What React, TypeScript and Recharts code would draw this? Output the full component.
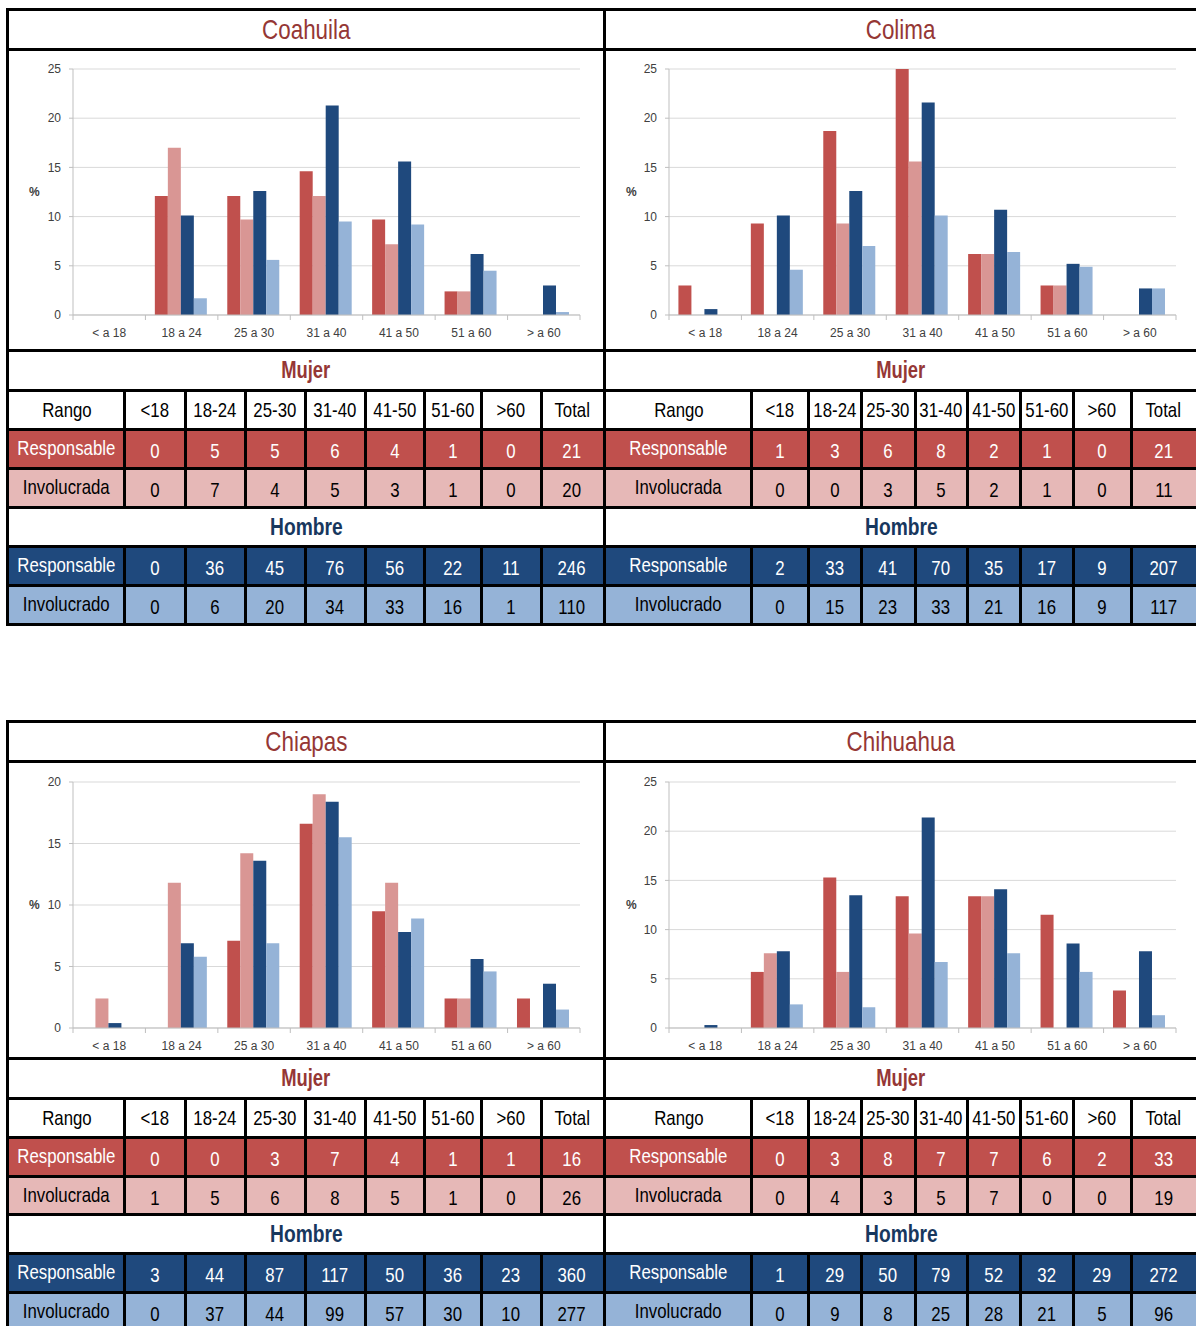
import { BarChart, Bar, XAxis, YAxis, CartesianGrid } from 'recharts';

const categorias = ['< a 18', '18 a 24', '25 a 30', '31 a 40', '41 a 50', '51 a 60', '> a 60'];
const rangos = ['<18', '18-24', '25-30', '31-40', '41-50', '51-60', '>60', 'Total'];

// porcentajes
const coahuilaMujerResp = [0, 12.1, 12.1, 14.6, 9.7, 2.4, 0];
const coahuilaMujerInv = [0, 17.0, 9.7, 12.1, 7.2, 2.4, 0];
const coahuilaHombreResp = [0, 10.1, 12.6, 21.3, 15.6, 6.2, 3.0];
const coahuilaHombreInv = [0, 1.7, 5.6, 9.5, 9.2, 4.5, 0.3];

const colimaMujerResp = [3.0, 9.3, 18.7, 25.0, 6.2, 3.0, 0];
const colimaMujerInv = [0, 0, 9.3, 15.6, 6.2, 3.0, 0];
const colimaHombreResp = [0.6, 10.1, 12.6, 21.6, 10.7, 5.2, 2.7];
const colimaHombreInv = [0, 4.6, 7.0, 10.1, 6.4, 4.9, 2.7];

const chiapasMujerResp = [0, 0, 7.1, 16.6, 9.5, 2.4, 2.4];
const chiapasMujerInv = [2.4, 11.8, 14.2, 19.0, 11.8, 2.4, 0];
const chiapasHombreResp = [0.4, 6.9, 13.6, 18.4, 7.8, 5.6, 3.6];
const chiapasHombreInv = [0, 5.8, 6.9, 15.5, 8.9, 4.6, 1.5];

const chihuahuaMujerResp = [0, 5.7, 15.3, 13.4, 13.4, 11.5, 3.8];
const chihuahuaMujerInv = [0, 7.6, 5.7, 9.6, 13.4, 0, 0];
const chihuahuaHombreResp = [0.3, 7.8, 13.5, 21.4, 14.1, 8.6, 7.8];
const chihuahuaHombreInv = [0, 2.4, 2.1, 6.7, 7.6, 5.7, 1.3];

// conteos de las tablas (último valor = total)
const coahuilaTablaMR = [0, 5, 5, 6, 4, 1, 0, 21];
const coahuilaTablaMI = [0, 7, 4, 5, 3, 1, 0, 20];
const coahuilaTablaHR = [0, 36, 45, 76, 56, 22, 11, 246];
const coahuilaTablaHI = [0, 6, 20, 34, 33, 16, 1, 110];

const colimaTablaMR = [1, 3, 6, 8, 2, 1, 0, 21];
const colimaTablaMI = [0, 0, 3, 5, 2, 1, 0, 11];
const colimaTablaHR = [2, 33, 41, 70, 35, 17, 9, 207];
const colimaTablaHI = [0, 15, 23, 33, 21, 16, 9, 117];

const chiapasTablaMR = [0, 0, 3, 7, 4, 1, 1, 16];
const chiapasTablaMI = [1, 5, 6, 8, 5, 1, 0, 26];
const chiapasTablaHR = [3, 44, 87, 117, 50, 36, 23, 360];
const chiapasTablaHI = [0, 37, 44, 99, 57, 30, 10, 277];

const chihuahuaTablaMR = [0, 3, 8, 7, 7, 6, 2, 33];
const chihuahuaTablaMI = [0, 4, 3, 5, 7, 0, 0, 19];
const chihuahuaTablaHR = [1, 29, 50, 79, 52, 32, 29, 272];
const chihuahuaTablaHI = [0, 9, 8, 25, 28, 21, 5, 96];

const NARROW = "'Liberation Sans', Arial, sans-serif";
const CHART_FONT = "'Liberation Sans', Arial, sans-serif";
const TH = 3;

const HLine = ({ x1, x2, y }: any) => (
  <div style={{ position: 'absolute', left: x1, top: y, width: x2 - x1, height: TH, background: '#000' }} />
);
const VLine = ({ x, y1, y2 }: any) => (
  <div style={{ position: 'absolute', left: x - 1, top: y1, width: TH, height: y2 - y1, background: '#000' }} />
);

// texto "angosto": Liberation Sans comprimida horizontalmente
const Txt = ({ x1, x2, y1, y2, color, size, children, bg, bold }: any) => (
  <div
    style={{
      position: 'absolute', left: x1, top: y1, width: x2 - x1, height: y2 - y1,
      display: 'flex', alignItems: 'center', justifyContent: 'center',
      color, fontSize: size, fontFamily: NARROW, background: bg, whiteSpace: 'nowrap',
      fontWeight: bold ? 'bold' : 'normal',
    }}
  >
    <span style={{ display: 'inline-block', transform: 'scaleX(0.8)' }}>{children}</span>
  </div>
);

const Grafica = ({ left, top, width, height, plotLeft, plotRight, plotTop, plotBottom, max, series }: any) => {
  const data = categorias.map((c, i) => ({
    cat: c, mr: series[0][i], mi: series[1][i], hr: series[2][i], hi: series[3][i],
  }));
  const ticks = [];
  for (let t = 0; t <= max; t += 5) ticks.push(t);
  const band = (plotRight - plotLeft) / categorias.length;
  const XTick = (p: any) => {
    const { x, index, payload } = p;
    return (
      <g>
        <line x1={x - band / 2} x2={x - band / 2} y1={plotBottom - top} y2={plotBottom - top + 5} stroke="#bfbfbf" />
        {index === categorias.length - 1 && (
          <line x1={x + band / 2} x2={x + band / 2} y1={plotBottom - top} y2={plotBottom - top + 5} stroke="#bfbfbf" />
        )}
        <text x={x} y={plotBottom - top + 19} textAnchor="middle" dominantBaseline="middle"
          fontSize={12} fill="#404040" fontFamily={CHART_FONT}>
          {payload.value}
        </text>
      </g>
    );
  };
  return (
    <div style={{ position: 'absolute', left, top }}>
      <BarChart
        width={width}
        height={height}
        data={data}
        margin={{ top: plotTop - top, right: left + width - plotRight, bottom: 0, left: 0 }}
        barCategoryGap="13%"
        barGap={0}
      >
        <CartesianGrid vertical={false} stroke="#d9d9d9" />
        <XAxis dataKey="cat" height={top + height - plotBottom} stroke="#bfbfbf" tickLine={false} tick={XTick} interval={0} />
        <YAxis
          width={plotLeft - left}
          domain={[0, max]}
          ticks={ticks}
          stroke="#bfbfbf"
          tickSize={4}
          tickMargin={8}
          tick={{ fontSize: 12, fill: '#404040', fontFamily: CHART_FONT }}
          label={{ value: '%', position: 'insideLeft', offset: 19, fontSize: 12, fill: '#404040', fontWeight: 'bold', fontFamily: CHART_FONT }}
        />
        <Bar dataKey="mr" fill="#C0504D" isAnimationActive={false} />
        <Bar dataKey="mi" fill="#D99694" isAnimationActive={false} />
        <Bar dataKey="hr" fill="#1F497D" isAnimationActive={false} />
        <Bar dataKey="hi" fill="#95B3D7" isAnimationActive={false} />
      </BarChart>
    </div>
  );
};

const Panel = ({ x1, x2, lines, cols, titulo, max, plotLeft, plotRight, plotTop, plotBottom, series, tabla }: any) => {
  const bounds = [x1, ...cols, x2];
  const rowTop = (i: number) => lines[i] + TH;
  const dataRow = (i: number, vals: number[], label: string, bg: string, color: string) => (
    <>
      <div style={{ position: 'absolute', left: x1, top: rowTop(i), width: x2 - x1, height: lines[i + 1] - rowTop(i), background: bg }} />
      <Txt x1={bounds[0]} x2={bounds[1]} y1={rowTop(i)} y2={lines[i + 1] - 2} color={color} size={21}>{label}</Txt>
      {vals.map((v, k) => (
        <Txt key={k} x1={bounds[k + 1]} x2={bounds[k + 2]} y1={rowTop(i) + 4} y2={lines[i + 1]} color={color} size={21}>{v}</Txt>
      ))}
    </>
  );
  return (
    <>
      <Txt x1={x1} x2={x2} y1={rowTop(0)} y2={lines[1]} color="#953735" size={28}>{titulo}</Txt>
      <Grafica
        left={x1 + 1}
        top={rowTop(1)}
        width={x2 - x1 - 2}
        height={lines[2] - rowTop(1)}
        plotLeft={plotLeft}
        plotRight={plotRight}
        plotTop={plotTop}
        plotBottom={plotBottom}
        max={max}
        series={series}
      />
      <Txt x1={x1} x2={x2} y1={rowTop(2)} y2={lines[3]} color="#953735" size={23} bold>Mujer</Txt>
      <Txt x1={bounds[0]} x2={bounds[1]} y1={rowTop(3)} y2={lines[4]} color="#000" size={21}>Rango</Txt>
      {rangos.map((r, k) => (
        <Txt key={r} x1={bounds[k + 1]} x2={bounds[k + 2]} y1={rowTop(3)} y2={lines[4]} color="#000" size={21}>{r}</Txt>
      ))}
      {dataRow(4, tabla[0], 'Responsable', '#C0504D', '#fff')}
      {dataRow(5, tabla[1], 'Involucrada', '#E6B8B7', '#000')}
      <Txt x1={x1} x2={x2} y1={rowTop(6)} y2={lines[7]} color="#17375E" size={24} bold>Hombre</Txt>
      {dataRow(7, tabla[2], 'Responsable', '#1F497D', '#fff')}
      {dataRow(8, tabla[3], 'Involucrado', '#95B3D7', '#000')}
      {lines.map((y: number, i: number) => (
        <HLine key={i} x1={x1 - 3} x2={x2} y={y} />
      ))}
      {cols.map((c: number) => (
        <VLine key={'a' + c} x={c} y1={lines[3]} y2={lines[6]} />
      ))}
      {cols.map((c: number) => (
        <VLine key={'b' + c} x={c} y1={lines[7]} y2={lines[9]} />
      ))}
    </>
  );
};

const topLines = [8, 48, 349, 389, 428, 467, 506, 545, 584, 623];
const botLines = [720, 760, 1057, 1097, 1136, 1175, 1213, 1252, 1291, 1330];
const leftCols = [124, 185, 245, 305, 365, 424, 481, 541];
const rightCols = [751, 808, 861, 915, 967, 1020, 1073, 1131];

export default function App() {
  return (
    <div style={{ position: 'absolute', left: 0, top: 0, width: 1196, height: 1326, overflow: 'hidden', background: '#fff' }}>
      <Panel
        x1={9} x2={603} lines={topLines} cols={leftCols} titulo="Coahuila" max={25}
        plotLeft={73} plotRight={580} plotTop={69} plotBottom={315}
        series={[coahuilaMujerResp, coahuilaMujerInv, coahuilaHombreResp, coahuilaHombreInv]}
        tabla={[coahuilaTablaMR, coahuilaTablaMI, coahuilaTablaHR, coahuilaTablaHI]}
      />
      <Panel
        x1={606} x2={1196} lines={topLines} cols={rightCols} titulo="Colima" max={25}
        plotLeft={669} plotRight={1176} plotTop={69} plotBottom={315}
        series={[colimaMujerResp, colimaMujerInv, colimaHombreResp, colimaHombreInv]}
        tabla={[colimaTablaMR, colimaTablaMI, colimaTablaHR, colimaTablaHI]}
      />
      <Panel
        x1={9} x2={603} lines={botLines} cols={leftCols} titulo="Chiapas" max={20}
        plotLeft={73} plotRight={580} plotTop={782} plotBottom={1028}
        series={[chiapasMujerResp, chiapasMujerInv, chiapasHombreResp, chiapasHombreInv]}
        tabla={[chiapasTablaMR, chiapasTablaMI, chiapasTablaHR, chiapasTablaHI]}
      />
      <Panel
        x1={606} x2={1196} lines={botLines} cols={rightCols} titulo="Chihuahua" max={25}
        plotLeft={669} plotRight={1176} plotTop={782} plotBottom={1028}
        series={[chihuahuaMujerResp, chihuahuaMujerInv, chihuahuaHombreResp, chihuahuaHombreInv]}
        tabla={[chihuahuaTablaMR, chihuahuaTablaMI, chihuahuaTablaHR, chihuahuaTablaHI]}
      />
      <VLine x={7} y1={8} y2={626} />
      <VLine x={604} y1={8} y2={626} />
      <VLine x={7} y1={720} y2={1326} />
      <VLine x={604} y1={720} y2={1326} />
    </div>
  );
}
